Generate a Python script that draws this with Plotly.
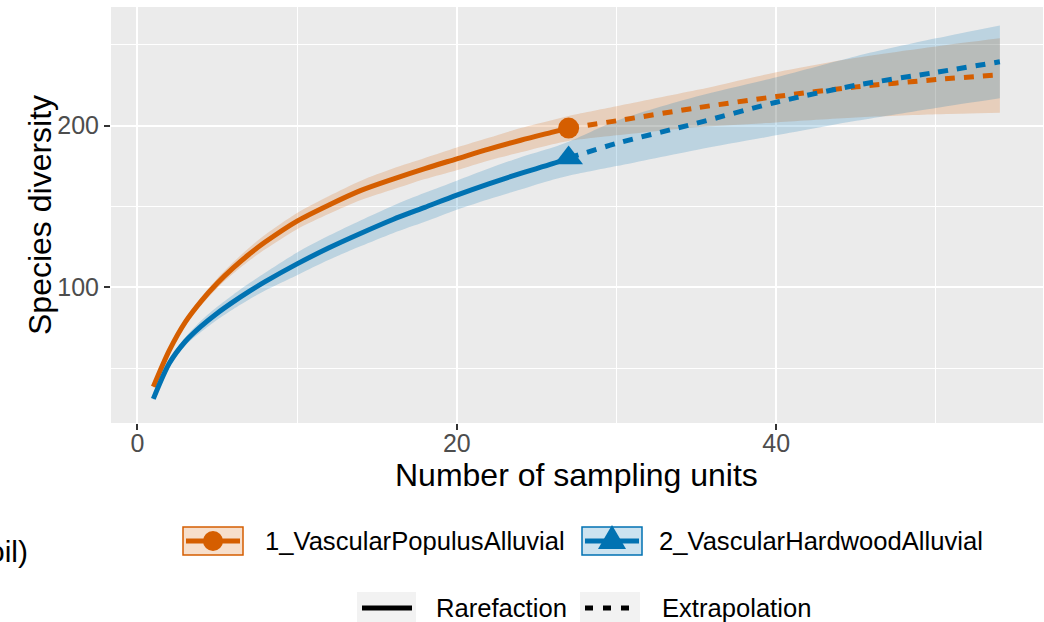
import plotly.graph_objects as go

# --- data -------------------------------------------------------------------
# sampling units (rarefaction part, observed sample size = 27)
t_rare = [1, 2, 3, 4, 5, 6, 7, 8, 10, 12, 14, 16, 18, 20, 22, 24, 26, 27]
# extrapolation part, up to double the observed sample size
t_extr = [27, 30, 35, 40, 45, 50, 54]

pop_rare = [38.5, 61, 78.5, 91.5, 102.5, 112, 120.5, 128, 141, 151, 160, 167,
            173.5, 179.5, 185.5, 191, 196, 198.5]
pop_rare_lo = [37.5, 59.5, 76.5, 89, 99.5, 108.5, 116.5, 123.5, 136, 145.5,
               154, 160.5, 167, 172.5, 178.5, 183.5, 188.5, 190.5]
pop_rare_hi = [39.5, 62.5, 80.5, 94, 105.5, 115.5, 124.5, 132.5, 146, 156.5,
               166, 173.5, 180, 186.5, 192.5, 198.5, 203.5, 206]
pop_extr = [198.5, 203, 211, 218, 224, 228.5, 231.5]
pop_extr_lo = [190.5, 194, 199, 202, 205, 207, 208]
pop_extr_hi = [206, 212, 222, 233, 242, 249, 254]

hw_rare = [31, 53, 66.5, 76, 84, 91, 97.5, 103.5, 114.5, 124.5, 133.5, 142,
           149.5, 157, 164, 170.5, 176.5, 180]
hw_rare_lo = [30, 51, 64, 72.5, 80, 86.5, 92.5, 98, 107.5, 117, 125.5, 133.5,
              140.5, 148, 154.5, 160.5, 166.5, 169]
hw_rare_hi = [32, 55, 69, 79.5, 88, 95.5, 102.5, 109, 121.5, 132, 141.5,
              150.5, 158.5, 166, 173.5, 180.5, 186.5, 190]
hw_extr = [180, 189, 201.5, 214.5, 225, 233, 239.5]
hw_extr_lo = [169, 175, 185, 194, 203, 211, 217]
hw_extr_hi = [190, 203, 218, 230, 243, 254, 262]

x_ticks = [0, 20, 40]
y_ticks = [100, 200]

assemblages = ["1_VascularPopulusAlluvial", "2_VascularHardwoodAlluvial"]
methods = ["Rarefaction", "Extrapolation"]

# --- styling ----------------------------------------------------------------
ORANGE = "#D55E00"
BLUE = "#0072B2"
ORANGE_FILL = "rgba(213,94,0,0.2)"
BLUE_FILL = "rgba(0,114,178,0.2)"
FONT = "Liberation Sans"

W, H = 1044, 622
L, R, T, B = 111, 1043, 7, 423   # panel edges in pixels


def px(x):
    return (x - L) / (R - L)


def py(y):
    return (B - y) / (B - T)


fig = go.Figure()

series = [
    (pop_rare, pop_rare_lo, pop_rare_hi, pop_extr, pop_extr_lo, pop_extr_hi,
     ORANGE, ORANGE_FILL, "circle", 21),
    (hw_rare, hw_rare_lo, hw_rare_hi, hw_extr, hw_extr_lo, hw_extr_hi,
     BLUE, BLUE_FILL, "triangle-up", 25),
]

SPLINE = dict(shape="spline", smoothing=0.8)

# confidence bands (lower edge, then upper edge filled down to it)
for (yr, lor, hir, ye, loe, hie, col, fill, sym, ms) in series:
    xs = t_rare + t_extr[1:]
    hi = hir + hie[1:]
    lo = lor + loe[1:]
    fig.add_trace(go.Scatter(x=xs, y=lo, mode="lines",
                             line=dict(width=0, **SPLINE),
                             hoverinfo="skip", showlegend=False))
    fig.add_trace(go.Scatter(x=xs, y=hi, mode="lines", fill="tonexty",
                             fillcolor=fill, line=dict(width=0, **SPLINE),
                             hoverinfo="skip", showlegend=False))

# rarefaction / extrapolation curves
for (yr, lor, hir, ye, loe, hie, col, fill, sym, ms) in series:
    fig.add_trace(go.Scatter(x=t_rare, y=yr, mode="lines",
                             line=dict(color=col, width=5, **SPLINE),
                             showlegend=False))
    fig.add_trace(go.Scatter(x=t_extr, y=ye, mode="lines",
                             line=dict(color=col, width=5, dash="10px,9px",
                                       **SPLINE),
                             showlegend=False))

# observed points
for (yr, lor, hir, ye, loe, hie, col, fill, sym, ms) in series:
    fig.add_trace(go.Scatter(x=[t_rare[-1]], y=[yr[-1]], mode="markers",
                             marker=dict(symbol=sym, size=ms, color=col,
                                         line=dict(width=0)),
                             showlegend=False))

axis_common = dict(
    showline=False, zeroline=False, ticks="outside", ticklen=6,
    tickwidth=1.5, tickcolor="#333333", gridcolor="white", gridwidth=1.6,
    tickfont=dict(family=FONT, size=25, color="#4D4D4D"),
)

fig.update_xaxes(range=[-1.65, 56.7], tickmode="array", tickvals=x_ticks,
                 ticklabelstandoff=-8,
                 minor=dict(tickmode="array", tickvals=[10, 30, 50],
                            showgrid=True, gridcolor="white", gridwidth=0.8,
                            ticks=""),
                 **axis_common)
fig.update_yaxes(range=[16.1, 273.4], tickmode="array", tickvals=y_ticks,
                 minor=dict(tickmode="array", tickvals=[50, 150, 250],
                            showgrid=True, gridcolor="white", gridwidth=0.8,
                            ticks=""),
                 **axis_common)

shapes = []
annotations = []

# axis titles
annotations.append(dict(x=px(576), y=py(475), xref="paper", yref="paper",
                        text="Number of sampling units", showarrow=False,
                        font=dict(family=FONT, size=32, color="black"),
                        xanchor="center", yanchor="middle"))
annotations.append(dict(x=px(40), y=py(215), xref="paper", yref="paper",
                        text="Species diversity", showarrow=False, textangle=-90,
                        font=dict(family=FONT, size=32, color="black"),
                        xanchor="center", yanchor="middle"))

# legend title (runs past the left edge of the page)
annotations.append(dict(x=px(30), y=py(551), xref="paper", yref="paper",
                        text="oil)", showarrow=False,
                        font=dict(family=FONT, size=30, color="black"),
                        xanchor="right", yanchor="middle"))

# legend: assemblages
row1 = 541
keys = [(183, 243, ORANGE, ORANGE_FILL, "circle", 263),
        (582, 642, BLUE, BLUE_FILL, "triangle", 657)]
for (x0, x1, col, fill, sym, tx), name in zip(keys, assemblages):
    shapes.append(dict(type="rect", xref="paper", yref="paper",
                       x0=px(x0), x1=px(x1), y0=py(row1 + 14), y1=py(row1 - 14),
                       fillcolor="white", line=dict(width=0)))
    shapes.append(dict(type="rect", xref="paper", yref="paper",
                       x0=px(x0), x1=px(x1), y0=py(row1 + 14), y1=py(row1 - 14),
                       fillcolor=fill, line=dict(color=col, width=1.5)))
    shapes.append(dict(type="line", xref="paper", yref="paper",
                       x0=px(x0 + 3), x1=px(x1 - 3), y0=py(row1), y1=py(row1),
                       line=dict(color=col, width=5)))
    cx = (x0 + x1) / 2
    if sym == "circle":
        shapes.append(dict(type="circle", xref="paper", yref="paper",
                           x0=px(cx - 10), x1=px(cx + 10),
                           y0=py(row1 + 10), y1=py(row1 - 10),
                           fillcolor=col, line=dict(width=0)))
    else:
        path = "M {} {} L {} {} L {} {} Z".format(
            px(cx - 14), py(row1 + 8), px(cx + 14), py(row1 + 8),
            px(cx), py(row1 - 16))
        shapes.append(dict(type="path", xref="paper", yref="paper", path=path,
                           fillcolor=col, line=dict(width=0)))
    annotations.append(dict(x=px(tx), y=py(row1), xref="paper", yref="paper",
                            text=name, showarrow=False,
                            font=dict(family=FONT, size=25.6, color="black"),
                            xanchor="left", yanchor="middle"))

# legend: method
row2 = 608
mkeys = [(357, 416, "solid", 434), (580, 640, "dash", 660)]
for (x0, x1, dash, tx), name in zip(mkeys, methods):
    shapes.append(dict(type="rect", xref="paper", yref="paper",
                       x0=px(x0), x1=px(x1), y0=py(row2 + 16), y1=py(row2 - 16),
                       fillcolor="#F2F2F2", line=dict(width=0)))
    shapes.append(dict(type="line", xref="paper", yref="paper",
                       x0=px(x0 + 5), x1=px(x1 - 4), y0=py(row2), y1=py(row2),
                       line=dict(color="black", width=5,
                                 dash="solid" if dash == "solid" else "8px,10px")))
    annotations.append(dict(x=px(tx), y=py(row2), xref="paper", yref="paper",
                            text=name, showarrow=False,
                            font=dict(family=FONT, size=25.6, color="black"),
                            xanchor="left", yanchor="middle"))

fig.update_layout(
    width=W, height=H,
    margin=dict(l=L, r=W - R, t=T, b=H - B, pad=0),
    plot_bgcolor="#EBEBEB", paper_bgcolor="white",
    font=dict(family=FONT),
    showlegend=False,
    shapes=shapes, annotations=annotations,
)

fig.write_html("out.html")
